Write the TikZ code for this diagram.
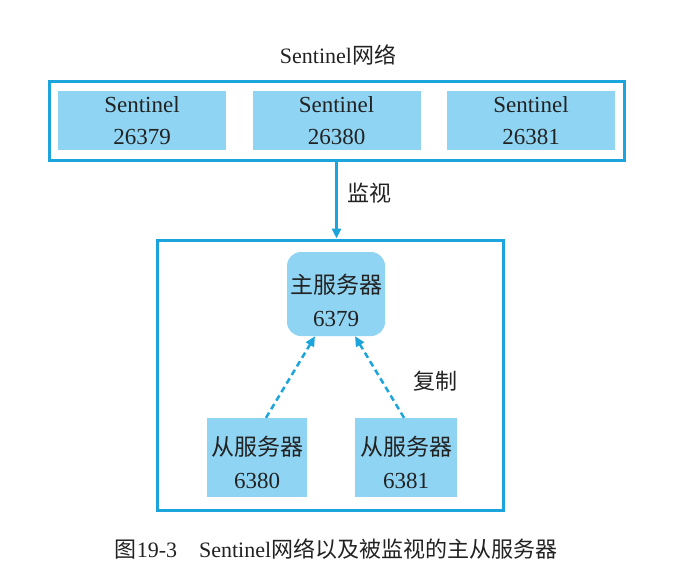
\documentclass[tikz,border=0pt]{standalone}
\usepackage{fontspec}
\setmainfont{Liberation Serif}
\newfontfamily\cjk{Noto Sans CJK SC}
\usetikzlibrary{arrows.meta}
\definecolor{edgeblue}{HTML}{1BA5DC}
\definecolor{fillblue}{HTML}{8FD5F3}
\definecolor{txt}{HTML}{222222}
\tikzset{
  frame/.style={draw=edgeblue, line width=3pt, fill=white, inner sep=0pt},
  cellbox/.style={fill=fillblue, inner sep=0pt},
  celltext/.style={inner sep=0pt, align=center, text=txt,
               font=\fontsize{23}{33}\selectfont},
  cell/.style={cellbox, celltext, font=\fontsize{23}{32}\selectfont},
  label/.style={text=txt, inner sep=0pt, font=\fontsize{22}{25}\selectfont},
  mainarrow/.style={draw=edgeblue, line width=2.5pt, -{Triangle[length=10pt,width=9pt]}},
  reparrow/.style={draw=edgeblue, line width=2.5pt, dash pattern=on 6pt off 4pt,
                   -{Triangle[length=10pt,width=9pt]}}
}
\begin{document}
\begin{tikzpicture}[x=1pt,y=-1pt]
\useasboundingbox (0,0) rectangle (699,582);
% title
\node[label] (title) at (338,55) {Sentinel{\cjk 网络}};
% top frame
\node[frame, minimum width=575pt, minimum height=79pt] (topbox) at (336.5,120.5) {};
\node[cell, minimum width=168pt, minimum height=59pt] (s1) at (142,120.5) {Sentinel\\26379};
\node[cell, minimum width=168pt, minimum height=59pt] (s2) at (336.5,120.5) {Sentinel\\26380};
\node[cell, minimum width=168pt, minimum height=59pt] (s3) at (531,120.5) {Sentinel\\26381};
% lower frame
\node[frame, minimum width=346pt, minimum height=270pt] (lowbox) at (330,375) {};
% monitor arrow
\draw[mainarrow] (topbox.south) -- (topbox.south |- lowbox.north);
\node[label] (mon) at (369,193) {\cjk 监视};
% servers
\node[cellbox, rounded corners=14pt, minimum width=98pt, minimum height=84pt] (m) at (336,294) {};
\node[celltext] (mt) at ([yshift=-6pt]m.center) {{\cjk 主服务器}\\6379};
\node[cellbox, minimum width=100pt, minimum height=79pt] (sl1) at (257,457.5) {};
\node[celltext] (sl1t) at ([yshift=-5pt]sl1.center) {{\cjk 从服务器}\\6380};
\node[cellbox, minimum width=102pt, minimum height=79pt] (sl2) at (406,457.5) {};
\node[celltext] (sl2t) at ([yshift=-5pt]sl2.center) {{\cjk 从服务器}\\6381};
\draw[reparrow] ([xshift=9pt]sl1.north) -- ([xshift=-21pt]m.south);
\draw[reparrow] ([xshift=-2pt]sl2.north) -- ([xshift=19pt]m.south);
\node[label] (rep) at (435,381) {\cjk 复制};
% caption
\node[label] (cap) at (336,549) {{\cjk 图}19-3\hspace{22pt}Sentinel{\cjk 网络以及被监视的主从服务器}};
\end{tikzpicture}
\end{document}
